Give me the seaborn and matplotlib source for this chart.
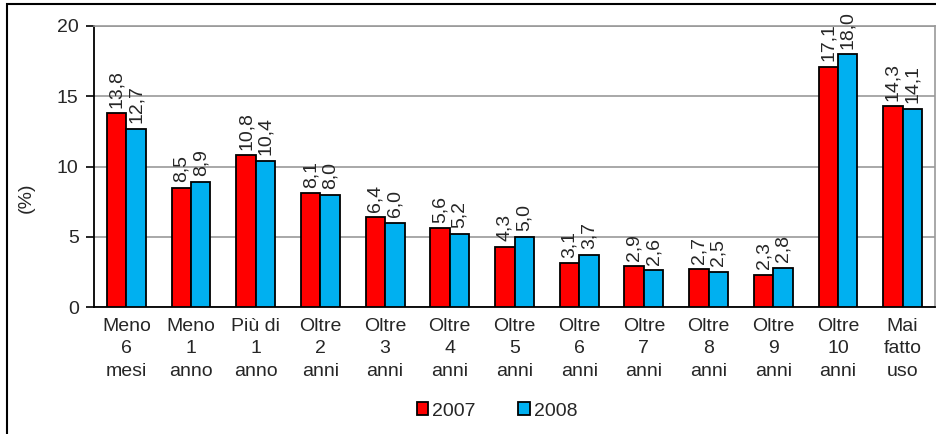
import pandas as pd
import matplotlib
matplotlib.use("Agg")
import matplotlib.pyplot as plt
from matplotlib.patches import Patch, Rectangle
import seaborn as sns

# -----------------------------
# Data
# -----------------------------
categories = ["Meno\n6\nmesi", "Meno\n1\nanno", "Più di\n1\nanno", "Oltre\n2\nanni",
              "Oltre\n3\nanni", "Oltre\n4\nanni", "Oltre\n5\nanni", "Oltre\n6\nanni",
              "Oltre\n7\nanni", "Oltre\n8\nanni", "Oltre\n9\nanni", "Oltre\n10\nanni",
              "Mai\nfatto\nuso"]
years = ["2007", "2008"]
values_2007 = [13.8, 8.5, 10.8, 8.1, 6.4, 5.6, 4.3, 3.1, 2.9, 2.7, 2.3, 17.1, 14.3]
values_2008 = [12.7, 8.9, 10.4, 8.0, 6.0, 5.2, 5.0, 3.7, 2.6, 2.5, 2.8, 18.0, 14.1]
colors = {"2007": "#FF0000", "2008": "#00B0F0"}

df = pd.DataFrame({
    "categoria": categories * 2,
    "anno": ["2007"] * len(categories) + ["2008"] * len(categories),
    "valore": values_2007 + values_2008,
})

# -----------------------------
# Plot
# -----------------------------
sns.set_style("white")
plt.rcParams["font.family"] = ["Liberation Sans", "DejaVu Sans"]
fs = 14
plt.rcParams["font.size"] = fs

fig = plt.figure(figsize=(9.37, 4.34), dpi=100)
ax = fig.add_axes([94 / 937, 1 - 307 / 434, (935 - 94) / 937, (307 - 26) / 434])

sns.barplot(data=df, x="categoria", y="valore", hue="anno", order=categories,
            hue_order=years, palette=colors, saturation=1, width=0.6, edgecolor="black",
            linewidth=1.3, legend=False, ax=ax, zorder=3)

for cont in ax.containers:
    ax.bar_label(cont, labels=[f"{v:.1f}".replace(".", ",") for v in cont.datavalues],
                 rotation=90, padding=4, fontsize=fs)

ax.set_ylim(0, 20)
ax.set_xlim(-0.5, len(categories) - 0.5)
ax.set_yticks([0, 5, 10, 15, 20])
ax.yaxis.grid(True, color="#999999", linewidth=1.2, zorder=0)
ax.set_xlabel("")
ax.set_ylabel("(%)")
ax.yaxis.set_label_coords(-0.07, 0.39)

# ticks between groups
ax.set_xticks(range(len(categories)))
ax.set_xticklabels(categories, linespacing=1.4)
ax.set_xticks([i - 0.5 for i in range(len(categories) + 1)], minor=True)
ax.tick_params(axis="x", which="major", length=0, pad=8)
ax.tick_params(axis="x", which="minor", length=5, width=1.2, direction="out", color="black")
ax.tick_params(axis="y", length=6, width=1.2, direction="out", color="black", left=True, pad=5)

for side in ["left", "bottom"]:
    ax.spines[side].set_color("black")
    ax.spines[side].set_linewidth(1.3)
for side in ["top", "right"]:
    ax.spines[side].set_visible(True)
    ax.spines[side].set_color("#999999")
    ax.spines[side].set_linewidth(1.2)

handles = [Patch(facecolor=colors[y], edgecolor="black", linewidth=1.3, label=y) for y in years]
fig.legend(handles=handles, loc="center", bbox_to_anchor=(497 / 937, 1 - 411 / 434), ncol=2,
           frameon=False, handlelength=0.6, handleheight=0.6, handletextpad=0.2,
           columnspacing=2.2, fontsize=fs)

# outer chart border
fig.patches.append(Rectangle((7 / 937, -0.1), 1.2, 1 - 4 / 434 + 0.1, transform=fig.transFigure,
                             fill=False, edgecolor="black", linewidth=1.5))

plt.savefig("out.png", dpi=100)
